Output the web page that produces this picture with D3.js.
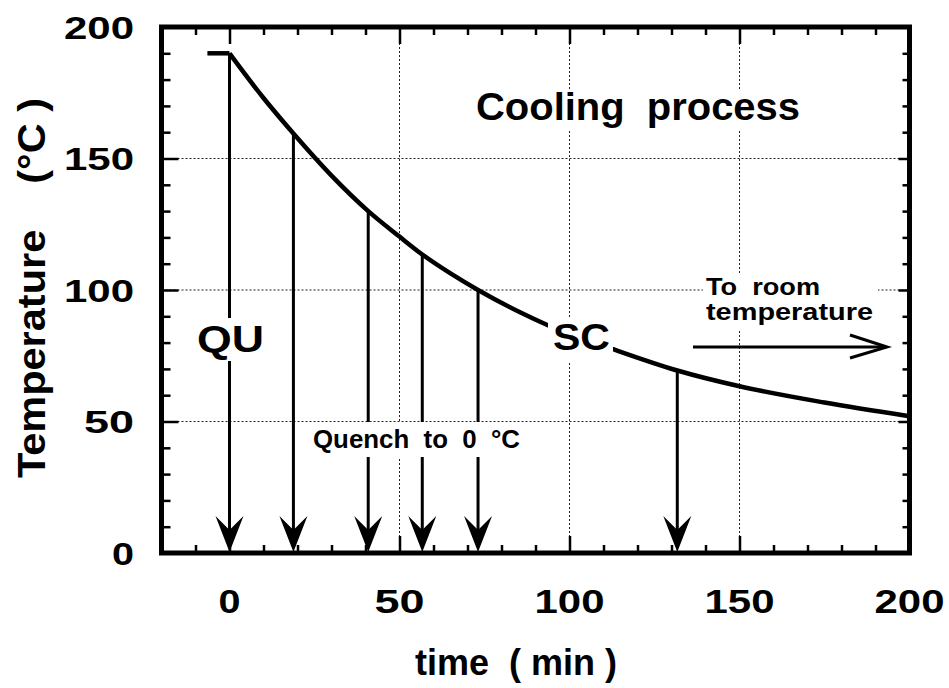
<!DOCTYPE html>
<html>
<head>
<meta charset="utf-8">
<script src="https://cdn.jsdelivr.net/npm/d3@7"></script>
<style>
  html, body { margin: 0; padding: 0; background: #fff; }
  text { font-family: "Liberation Sans", Arial, Helvetica, sans-serif; font-weight: bold; fill: #000; white-space: pre; }
</style>
</head>
<body>
<svg id="chart" width="949" height="688"></svg>
<script>
// ---- data ----
const holdTime = [-6.5, 0];
const holdTemp = [190, 190];
const curveTime = [0, 10, 18.8, 30, 40.8, 50, 56.7, 65, 73.1, 85, 93.8, 112.6, 131.7, 150, 175, 200];
const curveTemp = [190, 173, 159.5, 143.5, 130, 120.3, 113.5, 106.3, 100, 91.8, 86.5, 77.6, 69.4, 63.4, 57.2, 52];
const quenchTime = [0, 18.8, 40.8, 56.7, 73.1, 131.7];
const quenchTemp = [190, 159.5, 130, 113.5, 100, 69.4];
const xTickValues = [0, 50, 100, 150, 200];
const xTickLabels = ["0", "50", "100", "150", "200"];
const yTickValues = [0, 50, 100, 150, 200];
const yTickLabels = ["0", "50", "100", "150", "200"];
const gridX = [50, 100, 150];
const gridY = [50, 100, 150];

const svg = d3.select("#chart");
const x = d3.scaleLinear().domain([-20, 200]).range([161.5, 909.5]);
const y = d3.scaleLinear().domain([0, 200]).range([553, 27]);
const [x0, x1] = x.range();
const [y0, y1] = y.range();

// grid
const grid = svg.append("g").attr("stroke", "#222").attr("stroke-width", 1).attr("stroke-dasharray", "2,2");
grid.selectAll("line.gx").data(gridX).join("line")
  .attr("x1", d => x(d)).attr("x2", d => x(d)).attr("y1", y1).attr("y2", y0);
grid.selectAll("line.gy").data(gridY).join("line")
  .attr("x1", x0).attr("x2", x1).attr("y1", d => y(d)).attr("y2", d => y(d));

// cooling curve
const hold = holdTime.map((t, i) => [t, holdTemp[i]]);
const curve = curveTime.map((t, i) => [t, curveTemp[i]]);
svg.append("path").datum(hold)
  .attr("d", d3.line().x(d => x(d[0])).y(d => y(d[1])))
  .attr("fill", "none").attr("stroke", "#000").attr("stroke-width", 4.5);
svg.append("path").datum(curve)
  .attr("d", d3.line().x(d => x(d[0])).y(d => y(d[1])).curve(d3.curveMonotoneX))
  .attr("fill", "none").attr("stroke", "#000").attr("stroke-width", 4.5).attr("stroke-linejoin", "round");

// quench arrows
const arrows = quenchTime.map((t, i) => [t, quenchTemp[i]]);
const ag = svg.append("g");
ag.selectAll("line").data(arrows).join("line")
  .attr("x1", d => x(d[0])).attr("x2", d => x(d[0]))
  .attr("y1", d => y(d[1])).attr("y2", y(0) - 10)
  .attr("stroke", "#000").attr("stroke-width", 3);
ag.selectAll("path").data(arrows).join("path")
  .attr("transform", d => `translate(${x(d[0])},${y(0) - 1})`)
  .attr("d", "M0,0 L-14,-36 L0,-22 L14,-36 Z")
  .attr("fill", "#000");

// labelled boxes (white backgrounds)
function label(txt, xs, base, size, len, box) {
  svg.append("rect").attr("x", box[0]).attr("y", box[1])
    .attr("width", box[2] - box[0]).attr("height", box[3] - box[1]).attr("fill", "#fff");
  svg.append("text").attr("x", xs).attr("y", base).attr("font-size", size)
    .attr("textLength", len).attr("lengthAdjust", "spacingAndGlyphs").text(txt);
}
label("Cooling  process", 476, 120, 39, 324, [470, 90, 806, 131]);
label("QU", 197, 352, 37, 67, [192, 318, 270, 361]);
label("SC", 553, 350, 37, 57, [548, 318, 613, 363]);
label("Quench  to  0  °C", 313, 448, 26, 207, [307, 422, 524, 457]);
svg.append("rect").attr("x", 703).attr("y", 275).attr("width", 175).attr("height", 55).attr("fill", "#fff");
svg.append("text").attr("x", 706).attr("y", 295).attr("font-size", 24)
  .attr("textLength", 114).attr("lengthAdjust", "spacingAndGlyphs").text("To  room");
svg.append("text").attr("x", 706).attr("y", 320).attr("font-size", 24)
  .attr("textLength", 167).attr("lengthAdjust", "spacingAndGlyphs").text("temperature");

// room temperature arrow
svg.append("line").attr("x1", 693).attr("x2", 886).attr("y1", 347).attr("y2", 347)
  .attr("stroke", "#000").attr("stroke-width", 3);
svg.append("path").attr("d", "M850,335 L887,347 L850,358")
  .attr("fill", "none").attr("stroke", "#000").attr("stroke-width", 3);

// ticks (inward)
const minorX = d3.range(-10, 200, 10).filter(v => v % 50 !== 0);
const majorX = [0, 50, 100, 150];
const minorY = d3.range(10, 200, 10).filter(v => v % 50 !== 0);
const majorY = [50, 100, 150];
function axisG(axis) {
  const g = svg.append("g").call(axis);
  g.select(".domain").remove();
  g.selectAll("line").attr("stroke", "#000").attr("stroke-width", 2.5);
  return g;
}
axisG(d3.axisBottom(x).tickValues(minorX).tickSize(-8).tickFormat("")).attr("transform", `translate(0,${y0})`);
axisG(d3.axisBottom(x).tickValues(majorX).tickSize(-17).tickFormat("")).attr("transform", `translate(0,${y0})`);
axisG(d3.axisTop(x).tickValues(minorX).tickSize(-8).tickFormat("")).attr("transform", `translate(0,${y1})`);
axisG(d3.axisTop(x).tickValues(majorX).tickSize(-17).tickFormat("")).attr("transform", `translate(0,${y1})`);
axisG(d3.axisLeft(y).tickValues(minorY).tickSize(-9).tickFormat("")).attr("transform", `translate(${x0},0)`);
axisG(d3.axisLeft(y).tickValues(majorY).tickSize(-17).tickFormat("")).attr("transform", `translate(${x0},0)`);
axisG(d3.axisRight(y).tickValues(minorY).tickSize(-7).tickFormat("")).attr("transform", `translate(${x1},0)`);
axisG(d3.axisRight(y).tickValues(majorY).tickSize(-11).tickFormat("")).attr("transform", `translate(${x1},0)`);

// frame
svg.append("rect").attr("x", x0).attr("y", y1).attr("width", x1 - x0).attr("height", y0 - y1)
  .attr("fill", "none").attr("stroke", "#000").attr("stroke-width", 5);

// tick labels
const labLen = s => s.length === 1 ? 22 : s.length === 2 ? 50 : 70;
svg.append("g").selectAll("text").data(xTickValues).join("text")
  .attr("x", (d, i) => x(d) - labLen(xTickLabels[i]) / 2)
  .attr("y", 613).attr("font-size", 34)
  .attr("textLength", (d, i) => labLen(xTickLabels[i])).attr("lengthAdjust", "spacingAndGlyphs")
  .text((d, i) => xTickLabels[i]);
svg.append("g").selectAll("text").data(yTickValues).join("text")
  .attr("x", (d, i) => 134 - labLen(yTickLabels[i]))
  .attr("y", d => y(d) + 11.5).attr("font-size", 32)
  .attr("textLength", (d, i) => labLen(yTickLabels[i])).attr("lengthAdjust", "spacingAndGlyphs")
  .text((d, i) => yTickLabels[i]);

// axis titles
svg.append("text").attr("x", 415).attr("y", 675).attr("font-size", 37)
  .attr("textLength", 202).attr("lengthAdjust", "spacingAndGlyphs").text("time  ( min )");
svg.append("text").attr("transform", "translate(45,478) rotate(-90)").attr("font-size", 38)
  .attr("textLength", 380).attr("lengthAdjust", "spacingAndGlyphs").text("Temperature    (°C )");
</script>
</body>
</html>
